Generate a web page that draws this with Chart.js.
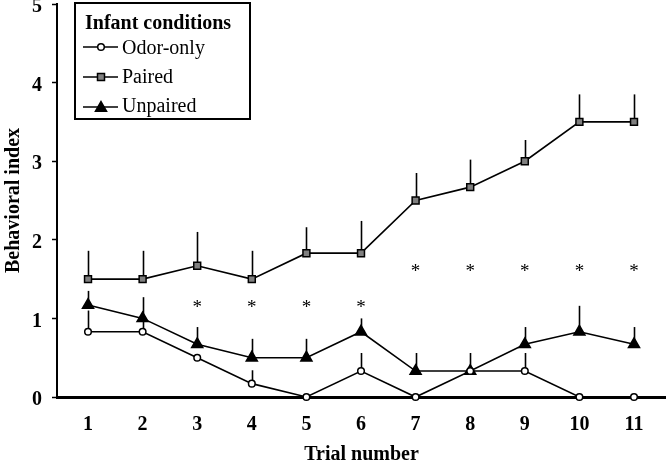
<!DOCTYPE html>
<html>
<head>
<meta charset="utf-8">
<script src="https://cdn.jsdelivr.net/npm/chart.js@4/dist/chart.umd.min.js"></script>
<style>
  html, body { margin: 0; padding: 0; background: #fff; }
  #wrap { width: 666px; height: 463px; position: relative; }
</style>
</head>
<body>
<div id="wrap"><canvas id="c" width="666" height="463"></canvas></div>
<script>
// ---- data ----
const trials = [1, 2, 3, 4, 5, 6, 7, 8, 9, 10, 11];
const yTicks = [0, 1, 2, 3, 4, 5];
const odorOnly = [0.83, 0.83, 0.5, 0.17, 0, 0.33, 0, 0.33, 0.33, 0, 0];
const odorOnlyUpper = [1.1, 1.0, null, 0.34, null, 0.56, null, null, 0.56, null, null];
const paired = [1.5, 1.5, 1.67, 1.5, 1.83, 1.83, 2.5, 2.67, 3.0, 3.5, 3.5];
const pairedUpper = [1.86, 1.86, 2.1, 1.86, 2.16, 2.24, 2.85, 3.02, 3.27, 3.85, 3.85];
const unpaired = [1.17, 1.0, 0.67, 0.5, 0.5, 0.83, 0.33, 0.33, 0.67, 0.83, 0.67];
const unpairedUpper = [1.35, 1.27, 0.89, 0.74, 0.74, 1.0, 0.56, 0.56, 0.89, 1.16, 0.89];
const starTrials = [3, 4, 5, 6, 7, 8, 9, 10, 11];
const starLevels = [1.2, 1.2, 1.2, 1.2, 1.65, 1.65, 1.65, 1.65, 1.65];
const legendTitle = 'Infant conditions';
const seriesNames = ['Odor-only', 'Paired', 'Unpaired'];
const xTitle = 'Trial number';
const yTitle = 'Behavioral index';

const SERIF = "'Liberation Serif', 'Times New Roman', serif";

function pts(vals) { return trials.map((t, i) => ({ x: t, y: vals[i] })); }

const errorBars = {
  id: 'errorBars',
  beforeDatasetsDraw(chart) {
    const { ctx, scales: { x, y } } = chart;
    const sets = [[paired, pairedUpper], [unpaired, unpairedUpper], [odorOnly, odorOnlyUpper]];
    ctx.save();
    ctx.strokeStyle = '#000';
    ctx.lineWidth = 1.6;
    sets.forEach(([m, u]) => {
      trials.forEach((t, i) => {
        if (u[i] == null) return;
        const px = Math.round(x.getPixelForValue(t)) + 0.5;
        ctx.beginPath();
        ctx.moveTo(px, y.getPixelForValue(m[i]));
        ctx.lineTo(px, y.getPixelForValue(u[i]));
        ctx.stroke();
      });
    });
    ctx.restore();
  }
};

const stars = {
  id: 'stars',
  afterDatasetsDraw(chart) {
    const { ctx, scales: { x, y } } = chart;
    ctx.save();
    ctx.fillStyle = '#000';
    ctx.font = '19px ' + SERIF;
    ctx.textAlign = 'center';
    ctx.textBaseline = 'alphabetic';
    starTrials.forEach((t, i) => {
      ctx.fillText('*', x.getPixelForValue(t), y.getPixelForValue(starLevels[i]) + 10);
    });
    ctx.restore();
  }
};

function drawMarker(ctx, kind, cx, cy) {
  ctx.save();
  ctx.lineWidth = 1.5;
  ctx.strokeStyle = '#000';
  ctx.beginPath();
  if (kind === 0) {
    ctx.fillStyle = '#fff';
    ctx.arc(cx, cy, 3.3, 0, Math.PI * 2);
  } else if (kind === 1) {
    ctx.fillStyle = '#808080';
    ctx.rect(cx - 3.5, cy - 3.5, 7, 7);
  } else {
    ctx.fillStyle = '#000';
    const r = 6.4;
    ctx.moveTo(cx, cy - r);
    ctx.lineTo(cx + r * 0.866, cy + r / 2);
    ctx.lineTo(cx - r * 0.866, cy + r / 2);
    ctx.closePath();
  }
  ctx.fill();
  ctx.stroke();
  ctx.restore();
}

const boxLegend = {
  id: 'boxLegend',
  afterDraw(chart) {
    const ctx = chart.ctx;
    ctx.save();
    ctx.fillStyle = '#fff';
    ctx.fillRect(75, 3, 175, 116);
    ctx.strokeStyle = '#000';
    ctx.lineWidth = 2;
    ctx.strokeRect(75, 3, 175, 116);
    ctx.fillStyle = '#000';
    ctx.textBaseline = 'alphabetic';
    ctx.textAlign = 'left';
    ctx.font = 'bold 20px ' + SERIF;
    ctx.fillText(legendTitle, 85, 29);
    const rows = [47, 77, 107];
    const bases = [54, 83, 112];
    ctx.font = '20px ' + SERIF;
    seriesNames.forEach((name, i) => {
      ctx.beginPath();
      ctx.lineWidth = 1.5;
      ctx.strokeStyle = '#000';
      ctx.moveTo(83, rows[i]);
      ctx.lineTo(118, rows[i]);
      ctx.stroke();
      drawMarker(ctx, i, 101, rows[i] + (i === 2 ? 1 : 0));
      ctx.fillStyle = '#000';
      ctx.fillText(name, 122, bases[i]);
    });
    ctx.restore();
  }
};

const common = { borderColor: '#000', borderWidth: 1.6, tension: 0, showLine: true, pointBorderColor: '#000', pointBorderWidth: 1.5, clip: false };

new Chart(document.getElementById('c'), {
  type: 'scatter',
  data: {
    datasets: [
      Object.assign({}, common, { label: seriesNames[1], data: pts(paired), pointStyle: 'rect', pointRadius: 4.9, pointBackgroundColor: '#808080', order: 2 }),
      Object.assign({}, common, { label: seriesNames[2], data: pts(unpaired), pointStyle: 'triangle', pointRadius: 6.4, pointBackgroundColor: '#000', order: 1 }),
      Object.assign({}, common, { label: seriesNames[0], data: pts(odorOnly), pointStyle: 'circle', pointRadius: 3.3, pointBackgroundColor: '#fff', order: 0 })
    ]
  },
  options: {
    responsive: false,
    animation: false,
    devicePixelRatio: 1,
    layout: { autoPadding: false, padding: { top: 4, right: 0, left: 0, bottom: 0 } },
    plugins: { legend: { display: false }, tooltip: { enabled: false } },
    elements: { point: { hoverRadius: 4 } },
    scales: {
      x: {
        type: 'linear',
        min: 0.432,
        max: 11.586,
        afterBuildTicks(s) { s.ticks = trials.map(v => ({ value: v })); },
        afterFit(s) { s.height = 66; s.paddingLeft = 0; s.paddingRight = 0; },
        grid: { drawOnChartArea: false, drawTicks: false },
        border: { display: true, color: '#000', width: 3 },
        ticks: { color: '#000', padding: 16, maxRotation: 0, autoSkip: false, font: { family: SERIF, size: 20, weight: 'bold' }, callback: v => String(v) },
        title: { display: true, text: xTitle, color: '#000', padding: { top: 0, bottom: -4 }, font: { family: SERIF, size: 20, weight: 'bold' } }
      },
      y: {
        type: 'linear',
        min: 0,
        max: 5,
        afterBuildTicks(s) { s.ticks = yTicks.map(v => ({ value: v })); },
        afterFit(s) { s.width = 57; s.paddingTop = 0; s.paddingBottom = 0; },
        grid: { drawOnChartArea: false, drawTicks: true, tickLength: 5, tickColor: '#000', tickWidth: 1.5 },
        border: { display: true, color: '#000', width: 2 },
        ticks: { color: '#000', padding: 10, labelOffset: 3, font: { family: SERIF, size: 20, weight: 'bold' }, callback: v => String(v) },
        title: { display: true, text: yTitle, color: '#000', padding: { top: 2, bottom: 0 }, font: { family: SERIF, size: 20, weight: 'bold' } }
      }
    }
  },
  plugins: [errorBars, stars, boxLegend]
});
</script>
</body>
</html>
